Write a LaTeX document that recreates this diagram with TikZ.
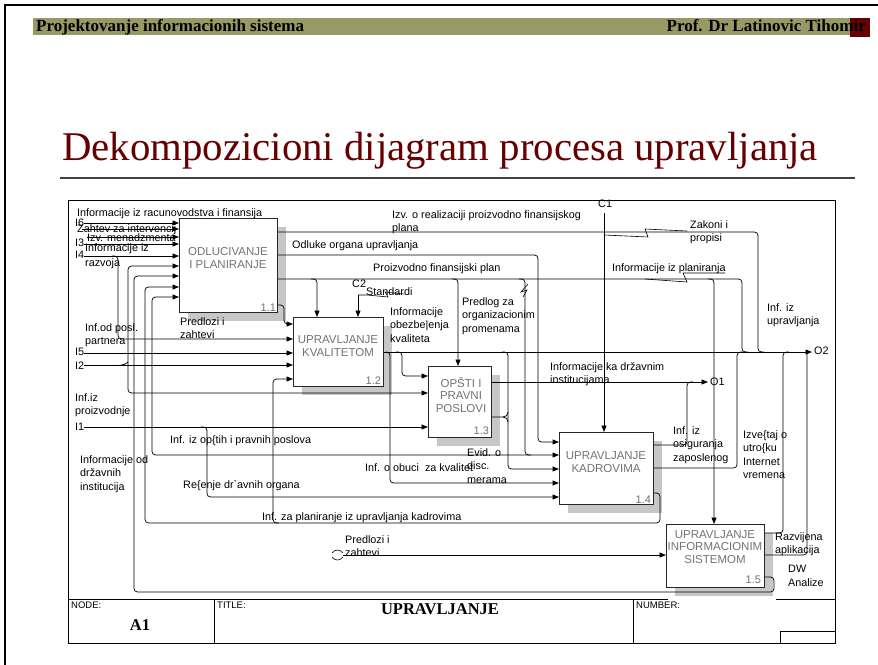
\documentclass[tikz,border=0pt]{standalone}
\usepackage{fontspec}
\setmainfont{Liberation Serif}
\newfontfamily\diafont{Liberation Sans}
\usetikzlibrary{arrows.meta,shadows}
\definecolor{hdrolive}{RGB}{153,153,102}
\definecolor{hdrred}{RGB}{102,0,0}
\definecolor{titlered}{RGB}{102,0,0}
\begin{document}
\begin{tikzpicture}[x=1pt,y=-1pt,
  flow/.style={line width=0.75pt, rounded corners=3.5pt},
  arr/.style={flow, -{Triangle[length=6.5pt,width=5pt]}},
  arrtwo/.style={flow, {Triangle[length=6.5pt,width=5pt]}-{Triangle[length=6.5pt,width=5pt]}},
  squig/.style={line width=0.6pt},
  actbox/.style={draw=black!85, line width=1.2pt, fill=white, anchor=north west, inner sep=0pt,
    general shadow={fill=black!22, shadow xshift=8pt, shadow yshift=-8pt}},
  boxtxt/.style={font=\diafont\fontsize{11.5}{12.8}\selectfont, text=black!55, align=center, inner sep=0pt},
  numtxt/.style={font=\diafont\fontsize{11}{12.5}\selectfont, text=black!55, anchor=south east, inner sep=0pt},
  lbl/.style={font=\diafont\fontsize{10.8}{13.5}\selectfont, anchor=north west, inner sep=0pt, align=left},
  blk/.style={font=\diafont\fontsize{9.5}{11}\selectfont, anchor=north west, inner sep=0pt},
  blkbold/.style={font=\bfseries\fontsize{16.5}{17}\selectfont, anchor=base, inner sep=0pt}
]
\useasboundingbox (0,0) rectangle (878,664);

% slide frame
\draw[line width=1.6pt] (5,670) -- (5,5) -- (885,5);

% header bar
\fill[hdrolive] (33,18) rectangle (870,35);
\fill[hdrred] (850,18) rectangle (870,37);
\node[font=\bfseries\fontsize{17}{17}\selectfont, anchor=base west, inner sep=0pt] (hdl) at (36,31) {Projektovanje informacionih sistema};
\node[font=\bfseries\fontsize{17}{17}\selectfont, anchor=base east, inner sep=0pt] (hdr) at (866,31) {Prof. Dr Latinovic Tihomir};

% slide title
\node[font=\fontsize{40.8}{41}\selectfont, text=titlered, anchor=base west, inner sep=0pt] (ttl) at (62,160) {Dekompozicioni dijagram procesa upravljanja};
\draw[line width=1.5pt, black!75] (60,178) -- (855,178);

% diagram frame and title block
\draw[line width=0.9pt] (68,200) rectangle (835,643);
\draw[line width=0.9pt] (68,599) -- (668,599) (776,599) -- (835,599);
\draw[line width=0.9pt] (214,599) -- (214,643) (633,599) -- (633,643) (780,643) -- (780,631) -- (835,631);
\node[blk] (tnode) at (71,602) {NODE:};
\node[blk] (ttitle) at (217,602) {TITLE:};
\node[blk] (tnum) at (636,602) {NUMBER:};
\node[blkbold] (tA1) at (140,630) {A1};
\node[blkbold] (tupr) at (440,614) {UPRAVLJANJE};

% activity boxes
\node[actbox, minimum width=98pt, minimum height=94pt] (b11) at (179,218) {};
\node[actbox, minimum width=90pt, minimum height=69pt] (b12) at (293,317) {};
\node[actbox, minimum width=63pt, minimum height=71pt] (b13) at (428,366) {};
\node[actbox, minimum width=94pt, minimum height=72pt] (b14) at (559,432) {};
\node[actbox, minimum width=98pt, minimum height=63pt] (b15) at (666,524) {};

\node[boxtxt] (t11) at (228,258) {ODLUCIVANJE\\I PLANIRANJE};
\node[boxtxt] (t12) at (338,346) {UPRAVLJANJE\\KVALITETOM};
\node[boxtxt] (t13) at (461,395) {OPŠTI I\\PRAVNI\\POSLOVI};
\node[boxtxt] (t14) at (606,462) {UPRAVLJANJE\\KADROVIMA};
\node[boxtxt] (t15) at (715,547) {UPRAVLJANJE\\INFORMACIONIM\\SISTEMOM};
\node[numtxt] (n11) at ([shift={(-2,-2)}]b11.south east) {1.1};
\node[numtxt] (n12) at ([shift={(-3,-3)}]b12.south east) {1.2};
\node[numtxt] (n13) at ([shift={(-3,-3)}]b13.south east) {1.3};
\node[numtxt] (n14) at ([shift={(-3,-2)}]b14.south east) {1.4};
\node[numtxt] (n15) at ([shift={(-4,-4)}]b15.south east) {1.5};

% free ends
\coordinate (i6) at (84,223);
\coordinate (iz) at (82,229);
\coordinate (im) at (87,237);
\coordinate (i3) at (84,244);
\coordinate (i4) at (84,256);
\coordinate (i5) at (84,353);
\coordinate (i2) at (84,365);
\coordinate (i1) at (84,427);
\coordinate (c1) at (604,213);
\coordinate (c2) at (358,295);
\coordinate (o1) at (708,382);
\coordinate (o2) at (812,352);
\coordinate (tun) at (343,555);

% inputs of 1.1
\draw[arr] (i6) -- (b11.west |- i6);
\draw[arr] (iz) -- (b11.west |- iz);
\draw[arr] (im) -- (b11.west |- im);
\draw[arr] (i3) -- (b11.west |- i3);
\draw[arr] (i4) -- (b11.west |- i4);
\draw[arrtwo] (b11.west |- 0,266) -- (128,266) -- (128,393) -- (b13.west |- 0,393);
\draw[arr] (b15.east |- 0,577) -- (774,577) -- (774,592) -- (134,592) -- (134,276) -- (b11.west |- 0,276);
\draw[arr] (b14.east |- 0,493) -- (660,493) -- (660,523) -- (145,523) -- (145,287) -- (b11.west |- 0,287);
\draw[arrtwo] (b11.west |- 0,297) -- (152,297) -- (152,455) -- (b14.west |- 0,455);

% inputs of 1.2
\draw[arr] (b11.east |- 0,305) -- (284,305) -- (284,324) -- (b12.west |- 0,324);
\draw[arr] (112,256) -- (118,256) -- (118,339) -- (b12.west |- 0,339);
\draw[arr] (i5) -- (b12.west |- i5);
\draw[arr] (i2) -- (b12.west |- i2);
\draw[flow] (122,365) -- (125,365) -- (128,362);
\draw[arr] (279,523) -- (273,523) -- (273,379) -- (b12.west |- 0,379);

% outputs of 1.1
\draw[flow] (b11.east |- 0,232) -- (758,232) -- (758,352) -- (764,352);
\draw[arr] (b11.east |- 0,255) -- (538,255) -- (538,442) -- (b14.west |- 0,442);
\draw[arr] (b11.east |- 0,279) -- (714,279) -- (714,0 |- b15.north);
\draw[arr] (311,279) -- (317,279) -- (317,0 |- b12.north);
\draw[arr] (452,279) -- (458,279) -- (458,0 |- b13.north);
\draw[flow] (519,279) -- (525,279) -- (525,455) -- (531,455);
\draw[flow] (708,279) -- (742,279) -- (742,352) -- (748,352);

% controls
\draw[arr] (c1) -- (c1 |- b14.north);
\draw[arr] (c2) -- (c2 |- b12.north);
\draw[squig] (c2) -- (367,295) -- (388,297) -- (385,292) -- (404,294);

% outputs of 1.2
\draw[arr] (b12.east |- 0,352) -- (o2);
\draw[arr] (396,352) -- (402,352) -- (402,376) -- (b13.west |- 0,376);
\draw[arr] (386,352) -- (390,352) -- (390,483) -- (b14.west |- 0,483);
\draw[arr] (502,352) -- (508,352) -- (508,469) -- (b14.west |- 0,469);

% inputs and outputs of 1.3
\draw[arr] (i1) -- (b13.west |- i1);
\draw[arr] (201,427) -- (207,427) -- (207,497) -- (b14.west |- 0,497);
\draw[arr] (b13.east |- 0,382) -- (o1);
\draw[line width=0.75pt] (b13.east |- 0,417) -- (503,417) .. controls (506,417) and (508,415) .. (508,412);
\draw[line width=0.75pt] (503,417) .. controls (506,417) and (508,419) .. (508,422);

% outputs of 1.4
\draw[flow] (b14.east |- 0,445) -- (687,445) -- (687,382) -- (693,382);
\draw[flow] (b14.east |- 0,468) -- (737,468) -- (737,352) -- (743,352);

% inputs and outputs of 1.5
\draw[arr] (tun) -- (b15.west |- tun);
\draw[squig] (332,553) .. controls (335,549) and (340,549) .. (343,553);
\draw[squig] (332,557) .. controls (335,561) and (340,561) .. (343,557);
\draw[flow] (b15.east |- 0,533) -- (783,533) -- (783,352) -- (789,352);
\draw[flow] (b15.east |- 0,555) -- (807,555) -- (807,352);

% label links
\draw[squig] (604,235) -- (648,237) -- (645,229) -- (687,231);
\draw[squig] (645,279) -- (687,282) -- (683,273) -- (725,273);
\draw[squig] (528,284) -- (521,292) -- (527,290) -- (523,297);

% arrow labels
\node[lbl] (l1) at (77,208) {Informacije iz racunovodstva i finansija};
\node[lbl] (l2) at (75,219) {I6};
\node[lbl] (l3) at (77,224) {Zahtev za intervencij};
\node[lbl] (l4) at (87,233) {Izv. menadzmenta};
\node[lbl] (l5) at (75,239) {I3};
\node[lbl] (l6) at (85,243) {Informacije iz};
\node[lbl] (l7) at (75,251) {I4};
\node[lbl] (l8) at (85,258) {razvoja};
\node[lbl] (l9) at (85,323) {Inf.od posl.\\partnera};
\node[lbl] (l10) at (180,317) {Predlozi i\\zahtevi};
\node[lbl] (l11) at (75,348) {I5};
\node[lbl] (l12) at (75,362) {I2};
\node[lbl] (l13) at (75,393) {Inf.iz\\proizvodnje};
\node[lbl] (l14) at (75,423) {I1};
\node[lbl] (l15) at (170,435) {Inf. iz op\{tih i pravnih poslova};
\node[lbl] (l16) at (80,455) {Informacije od\\državnih\\institucija};
\node[lbl] (l17) at (183,480) {Re\{enje dr\textasciigrave avnih organa};
\node[lbl] (l18) at (392,210) {Izv. o realizaciji proizvodno finansijskog\\plana};
\node[lbl] (l19) at (292,240) {Odluke organa upravljanja};
\node[lbl] (l20) at (373,263) {Proizvodno finansijski plan};
\node[lbl] (l21) at (352,280) {C2};
\node[lbl] (l22) at (366,287) {Standardi};
\node[lbl] (l23) at (390,307) {Informacije\\obezbe|enja\\kvaliteta};
\node[lbl] (l24) at (462,297) {Predlog za\\organizacionim\\promenama};
\node[lbl] (l25) at (598,200) {C1};
\node[lbl] (l26) at (690,220) {Zakoni i\\propisi};
\node[lbl] (l27) at (612,263) {Informacije iz planiranja};
\node[lbl] (l28) at (767,303) {Inf. iz\\upravljanja};
\node[lbl] (l29) at (814,347) {O2};
\node[lbl] (l30) at (550,362) {Informacije ka državnim\\institucijama};
\node[lbl] (l31) at (710,378) {O1};
\node[lbl] (l32) at (467,448) {Evid. o\\disc.\\merama};
\node[lbl] (l33) at (365,463) {Inf. o obuci~ za kvalitet};
\node[lbl] (l34) at (673,426) {Inf. iz\\osiguranja\\zaposlenog};
\node[lbl] (l35) at (743,430) {Izve\{taj o\\utro\{ku\\Internet\\vremena};
\node[lbl] (l36) at (262,512) {Inf. za planiranje iz upravljanja kadrovima};
\node[lbl] (l37) at (345,535) {Predlozi i\\zahtevi};
\node[lbl] (l38) at (775,532) {Razvijena\\aplikacija};
\node[lbl] (l39) at (788,565) {DW\\Analize};
\end{tikzpicture}
\end{document}
